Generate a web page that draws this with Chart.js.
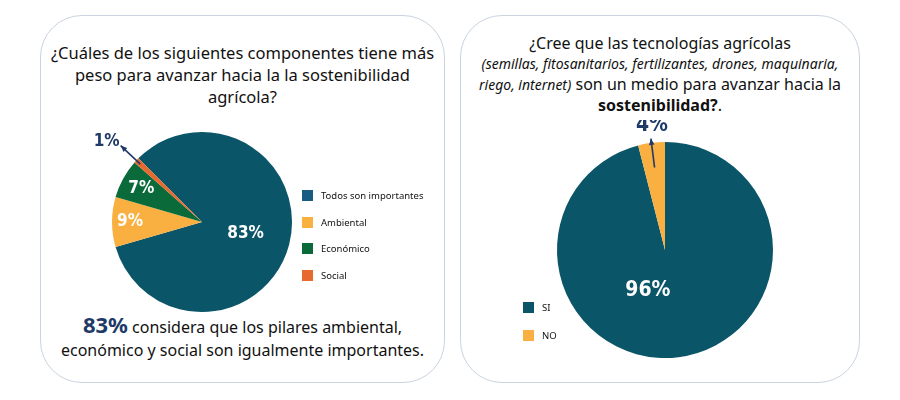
<!DOCTYPE html>
<html><head><meta charset="utf-8">
<script src="https://cdn.jsdelivr.net/npm/chart.js@4"></script>
<style>
  body { margin:0; width:900px; height:400px; background:#fff; position:relative; font-family:'Noto Sans', sans-serif; color:#111; overflow:hidden; }
  .card { position:absolute; border:1.5px solid #c9d4e0; border-radius:42px; box-sizing:border-box; }
  .t { position:absolute; text-align:center; }
  canvas { position:absolute; }
  .leg { position:absolute; font-size:9.5px; display:flex; align-items:center; }
  .leg i { display:inline-block; width:11px; height:11px; margin-right:8px; }
</style></head>
<body>
<div class="card" style="left:40px;top:15px;width:405px;height:368px"></div>
<div class="card" style="left:460px;top:15px;width:400px;height:368px"></div>

<div class="t" style="left:50px;width:385px;top:42px;font-size:16.5px;line-height:22px">¿Cuáles de los siguientes componentes tiene más peso para avanzar hacia la la sostenibilidad agrícola?</div>
<div class="t" style="left:50px;width:385px;top:313px;font-size:16px;line-height:22.5px"><b style="font-size:22px;color:#1f3a68">83%</b> considera que los pilares ambiental, económico y social son igualmente importantes.</div>

<div class="t" style="left:470px;width:380px;top:33px;font-size:16px;line-height:20px">¿Cree que las tecnologías agrícolas<br><i style="font-size:14px">(semillas, fitosanitarios, fertilizantes, drones, maquinaria, riego, internet)</i> son un medio para avanzar hacia la <b>sostenibilidad?</b>.</div>

<canvas id="c1" width="220" height="220" style="left:92px;top:112px"></canvas>
<canvas id="c2" width="260" height="260" style="left:535px;top:120px"></canvas>
<div id="leg1"></div>
<div id="leg2"></div>

<script>
const categories1 = ['Todos son importantes', 'Ambiental', 'Económico', 'Social'];
const values1 = [83, 9, 7, 1];
const colors1 = ['#0b5568', '#f9b040', '#0a6a3a', '#e8692e'];
const legendColors1 = ['#1a5b82', '#f9b040', '#0a6a3a', '#e8692e'];

const categories2 = ['SI', 'NO'];
const values2 = [96, 4];
const colors2 = ['#0b5568', '#f9b040'];

function buildLegend(id, labels, cols, x, y, gap) {
  const el = document.getElementById(id);
  labels.forEach((l, i) => {
    const d = document.createElement('div');
    d.className = 'leg';
    d.style.left = x + 'px'; d.style.top = (y + i * gap) + 'px';
    d.innerHTML = `<i style="background:${cols[i]}"></i>${l}`;
    el.appendChild(d);
  });
}
buildLegend('leg1', categories1, legendColors1, 302, 189, 26.5);
buildLegend('leg2', categories2, colors2, 523, 301, 28);

// labels: mode 'in' (angle offset in deg from slice mid, radius frac) or 'out' (arrow)
const pieLabels = {
  id: 'pieLabels',
  afterDatasetsDraw(chart, args, opts) {
    const ctx = chart.ctx;
    const arcs = chart.getDatasetMeta(0).data;
    const vals = chart.data.datasets[0].data;
    ctx.save();
    ctx.textAlign = 'center'; ctx.textBaseline = 'middle';
    arcs.forEach((a, i) => {
      const o = opts.items[i];
      const mid = (a.startAngle + a.endAngle) / 2 + (o.rot || 0) * Math.PI / 180;
      const r = a.outerRadius;
      const px = f => a.x + Math.cos(mid) * r * f;
      const py = f => a.y + Math.sin(mid) * r * f;
      ctx.font = `bold ${o.size}px 'Liberation Sans Narrow', 'DejaVu Sans Condensed', sans-serif`;
      if (o.mode === 'in') {
        ctx.fillStyle = '#fff';
        ctx.fillText(vals[i] + '%', px(o.r), py(o.r));
      } else {
        const x1 = px(o.r0), y1 = py(o.r0), x2 = px(o.r1), y2 = py(o.r1);
        ctx.strokeStyle = '#1f3a68'; ctx.fillStyle = '#1f3a68'; ctx.lineWidth = 1.6;
        ctx.beginPath(); ctx.moveTo(x1, y1); ctx.lineTo(x2, y2); ctx.stroke();
        const ang = Math.atan2(y2 - y1, x2 - x1);
        ctx.beginPath();
        ctx.moveTo(x2, y2);
        ctx.lineTo(x2 - 7 * Math.cos(ang - 0.4), y2 - 7 * Math.sin(ang - 0.4));
        ctx.lineTo(x2 - 7 * Math.cos(ang + 0.4), y2 - 7 * Math.sin(ang + 0.4));
        ctx.closePath(); ctx.fill();
        ctx.fillText(vals[i] + '%', x2 + o.dx, y2 + o.dy);
      }
    });
    ctx.restore();
  }
};

function makePie(id, labels, data, cols, rotation, pad, items) {
  return new Chart(document.getElementById(id), {
    type: 'pie',
    data: { labels, datasets: [{ data, backgroundColor: cols, borderWidth: 0 }] },
    options: {
      responsive: false, animation: false, rotation,
      layout: { padding: pad },
      plugins: { legend: { display: false }, tooltip: { enabled: false }, pieLabels: { items } }
    },
    plugins: [pieLabels]
  });
}

makePie('c1', categories1, values1, colors1, -45, 20, [
  { mode: 'in', r: 0.5, size: 17 },
  { mode: 'in', r: 0.8, size: 17 },
  { mode: 'in', r: 0.77, size: 17 },
  { mode: 'out', r0: 0.94, r1: 1.24, dx: -14, dy: -4, size: 17 }
]);
makePie('c2', categories2, values2, colors2, 0, 22, [
  { mode: 'in', r: 0.41, rot: 30, size: 21 },
  { mode: 'out', r0: 0.77, r1: 1.04, dx: 1, dy: -13, size: 21 }
]);
</script>
</body></html>
